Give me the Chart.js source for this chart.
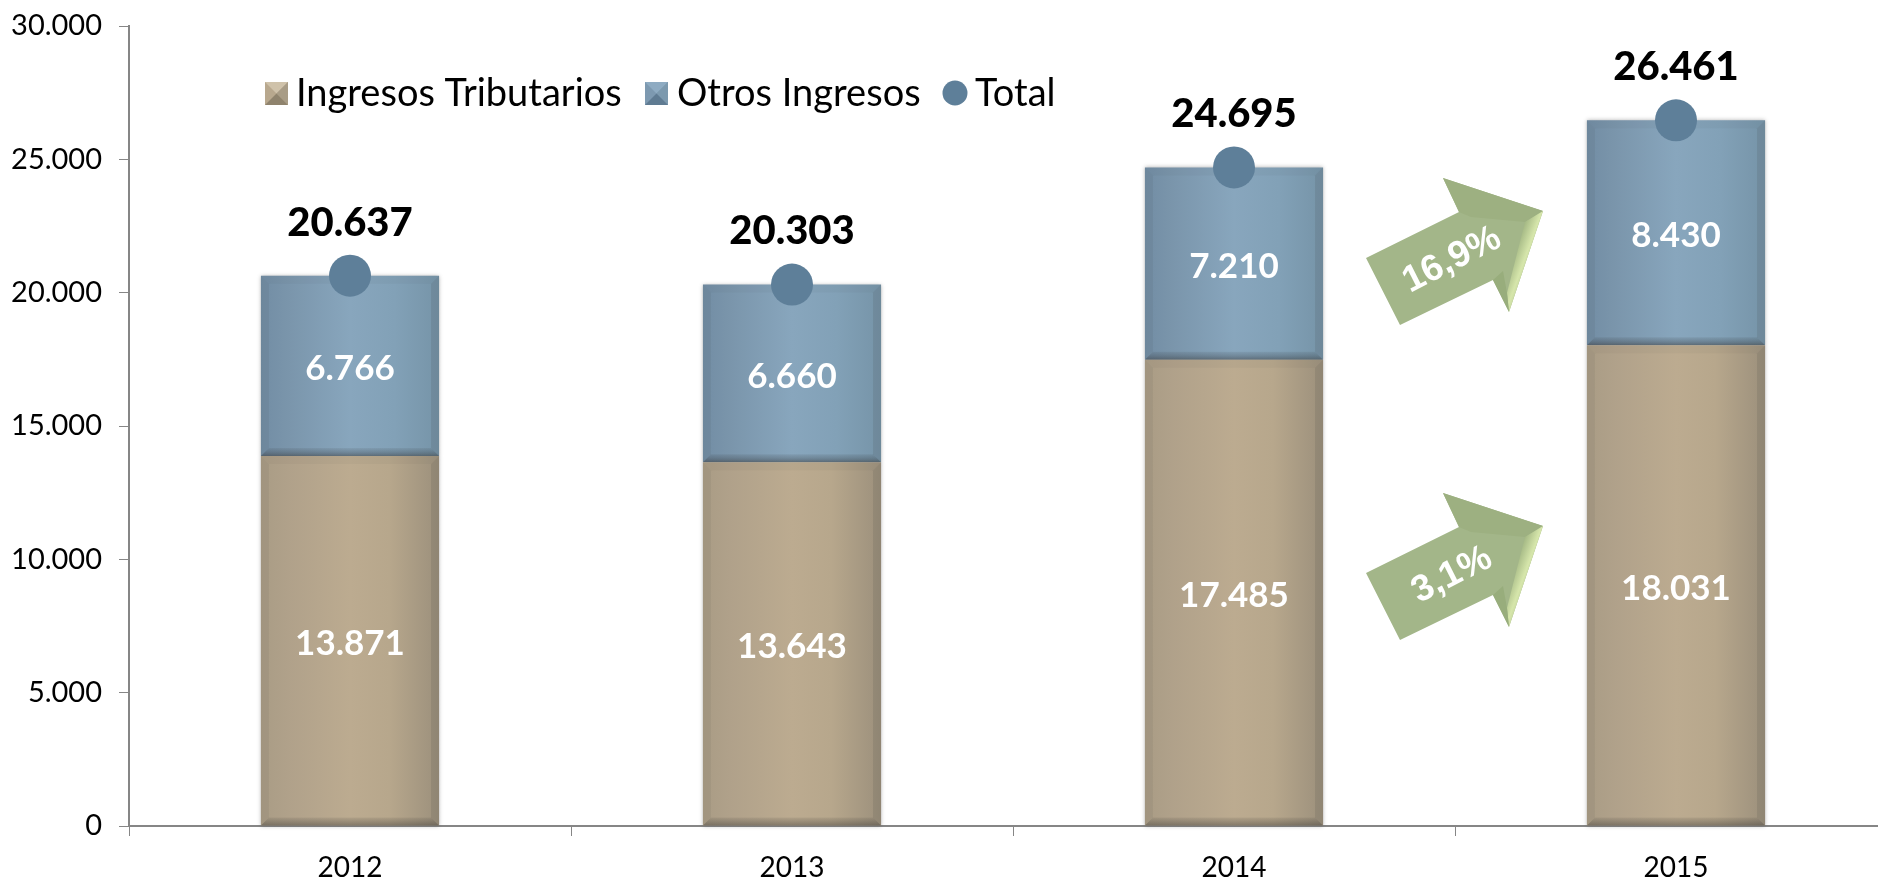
<!DOCTYPE html>
<html lang="es">
<head>
    <meta charset="UTF-8">
    <title>Ingresos 2012-2015</title>
    <script src="https://cdn.jsdelivr.net/npm/chart.js@4.4.1/dist/chart.umd.min.js"></script>
    <style>
        html, body { margin: 0; padding: 0; background: #fff; overflow: hidden; }
        #wrap { width: 1878px; height: 878px; overflow: hidden; }
    </style>
</head>
<body>
    <div id="wrap"><canvas id="chart" width="1918" height="878" style="width:1918px;height:878px;display:block"></canvas></div>
    <script>
    const years = ['2012', '2013', '2014', '2015'];
    const tributarios = [13871, 13643, 17485, 18031];
    const otros = [6766, 6660, 7210, 8430];
    const totals = [20637, 20303, 24695, 26461];
    const growth = ['16,9%', '3,1%'];
    const growthTipValues = [23060, 11250];

    const FONT = 'Lato, "Noto Sans", sans-serif';
    const BAR_SHARE = 0.403;
    const fmt = function(v) { return String(v).replace(/\B(?=(\d{3})+$)/g, '.'); };

    // horizontal shading of the bars, built from the x scale
    function barFill(stops) {
        return function(c) {
            const xs = c.chart.scales.x;
            if (!xs || !xs.width || c.dataIndex === undefined) return stops[2][1];
            const mid = xs.getPixelForValue(c.dataIndex);
            const half = xs.width / years.length * BAR_SHARE / 2;
            const g = c.chart.ctx.createLinearGradient(mid - half, 0, mid + half, 0);
            stops.forEach(function(s) { g.addColorStop(s[0], s[1]); });
            return g;
        };
    }
    const tanStops = [[0, '#a99c85'], [0.15, '#b0a18a'], [0.5, '#bcab90'], [0.72, '#b7a78c'], [1, '#9c907c']];
    const blueStops = [[0, '#728da4'], [0.15, '#7a95ab'], [0.5, '#88a6bd'], [0.75, '#82a1b7'], [1, '#7694a8']];

    function facet(ctx, pts, fill) {
        ctx.beginPath();
        pts.forEach(function(p, i) { i ? ctx.lineTo(p[0], p[1]) : ctx.moveTo(p[0], p[1]); });
        ctx.closePath();
        ctx.fillStyle = fill;
        ctx.fill();
    }

    // soft shadow + bevel on the bar elements
    const bevelPlugin = {
        id: 'bevel',
        beforeDatasetDraw: function(chart, args) {
            if (chart.data.datasets[args.index].type === 'bar') {
                chart.ctx.shadowColor = 'rgba(70,70,70,0.4)';
                chart.ctx.shadowBlur = 4;
            }
        },
        afterDatasetDraw: function(chart, args) {
            const ctx = chart.ctx;
            ctx.shadowColor = 'transparent';
            ctx.shadowBlur = 0;
            if (chart.data.datasets[args.index].type !== 'bar') return;
            const b = 8;
            args.meta.data.forEach(function(el) {
                const p = el.getProps(['x', 'y', 'base', 'width'], true);
                const l = p.x - p.width / 2, r = p.x + p.width / 2, t = p.y, bt = p.base;
                facet(ctx, [[l, t], [r, t], [r - b, t + b], [l + b, t + b]], 'rgba(60,60,60,0.04)');
                facet(ctx, [[l, t], [l + b, t + b], [l + b, bt - b], [l, bt]], 'rgba(60,60,60,0.07)');
                facet(ctx, [[r, t], [r - b, t + b], [r - b, bt - b], [r, bt]], 'rgba(60,60,60,0.12)');
                const g = ctx.createLinearGradient(0, bt - b, 0, bt);
                g.addColorStop(0, 'rgba(40,40,40,0.08)');
                g.addColorStop(1, 'rgba(40,40,40,0.38)');
                facet(ctx, [[l, bt], [l + b, bt - b], [r - b, bt - b], [r, bt]], g);
            });
        }
    };

    // value labels on the bars and above the total points
    const labelPlugin = {
        id: 'valueLabels',
        afterDatasetsDraw: function(chart) {
            const ctx = chart.ctx;
            ctx.save();
            ctx.textAlign = 'center';
            ctx.textBaseline = 'middle';
            chart.data.datasets.forEach(function(ds, i) {
                chart.getDatasetMeta(i).data.forEach(function(el, j) {
                    const p = el.getProps(['x', 'y', 'base'], true);
                    if (ds.type === 'bar') {
                        ctx.font = 'bold 35px ' + FONT;
                        ctx.fillStyle = '#fff';
                        ctx.fillText(fmt(ds.data[j]), p.x, (p.y + p.base) / 2 + 3);
                    } else {
                        ctx.font = '900 40px ' + FONT;
                        ctx.fillStyle = '#000';
                        ctx.fillText(fmt(ds.data[j]), p.x, p.y - 53);
                    }
                });
            });
            ctx.restore();
        }
    };

    // legend floats inside the plot, swatches are bevelled like the bars
    const legendPlugin = {
        id: 'floatLegend',
        afterDraw: function(chart) {
            const ctx = chart.ctx;
            const spots = [[265, 296], [645, 677], [955, 975]];
            const midY = 94;
            ctx.save();
            ctx.font = '38px ' + FONT;
            ctx.textBaseline = 'middle';
            chart.data.datasets.forEach(function(ds, i) {
                const s = spots[i];
                if (ds.type === 'bar') {
                    const w = 23, t = midY - 12, x = s[0];
                    const stops = i === 0 ? ['#b8a88e', '#cfc2aa', '#a89c86', '#8f836d'] : ['#7d99b0', '#8eabc2', '#7c99ae', '#5f7b92'];
                    ctx.fillStyle = stops[0];
                    ctx.fillRect(x, t, w, w);
                    facet(ctx, [[x, t], [x + w, t], [x + w / 2, t + w / 2]], stops[1]);
                    facet(ctx, [[x + w, t], [x + w, t + w], [x + w / 2, t + w / 2]], stops[2]);
                    facet(ctx, [[x, t + w], [x + w, t + w], [x + w / 2, t + w / 2]], stops[3]);
                } else {
                    ctx.beginPath();
                    ctx.arc(s[0], midY - 1, 12.5, 0, Math.PI * 2);
                    ctx.fillStyle = ds.pointBackgroundColor;
                    ctx.fill();
                }
                ctx.fillStyle = '#000';
                ctx.fillText(ds.label, s[1], midY);
            });
            ctx.restore();
        }
    };

    // growth arrows between 2014 and 2015, anchored on the scales by their tip
    const arrowPlugin = {
        id: 'growthArrows',
        afterDraw: function(chart) {
            const ctx = chart.ctx;
            const xs = chart.scales.x, ys = chart.scales.y;
            const tipX = xs.getPixelForValue(3) - 133;
            growth.forEach(function(txt, i) {
                const ty = ys.getPixelForValue(growthTipValues[i]);
                const P = function(dx, dy) { return [tipX + dx, ty + dy]; };
                const outline = [P(0, 0), P(-34, 101), P(-50, 69), P(-143, 114), P(-177, 47), P(-84, 1), P(-100, -33)];
                facet(ctx, outline, '#a3b689');
                facet(ctx, [P(0, 0), P(-100, -33), P(-84, 1), P(-72, 6), P(-18, 11)], '#9db081');
                const g = ctx.createLinearGradient(tipX - 40, ty + 60, tipX - 12, ty + 70);
                g.addColorStop(0, '#93a877');
                g.addColorStop(0.55, '#d6e6ab');
                g.addColorStop(1, '#a9bc8b');
                facet(ctx, [P(0, 0), P(-34, 101), P(-36, 82), P(-18, 11)], g);
                facet(ctx, [P(-34, 101), P(-50, 69), P(-40, 60), P(-36, 82)], '#98ad7c');
                ctx.save();
                ctx.translate(tipX - 91, ty + 49);
                ctx.rotate(-27 * Math.PI / 180);
                ctx.font = 'bold 37px "Liberation Sans", Arial, sans-serif';
                ctx.textAlign = 'center';
                ctx.textBaseline = 'middle';
                ctx.fillStyle = '#fff';
                ctx.fillText(txt, 0, 0);
                ctx.restore();
            });
        }
    };

    new Chart(document.getElementById('chart'), {
        data: {
            labels: years,
            datasets: [
                { type: 'bar', label: 'Ingresos Tributarios', data: tributarios, backgroundColor: barFill(tanStops), barPercentage: BAR_SHARE, categoryPercentage: 1, order: 2, clip: false },
                { type: 'bar', label: 'Otros Ingresos', data: otros, backgroundColor: barFill(blueStops), barPercentage: BAR_SHARE, categoryPercentage: 1, order: 2, clip: false },
                { type: 'line', label: 'Total', data: totals, showLine: false, pointRadius: 21, pointHoverRadius: 21, pointBackgroundColor: '#5e7f99', pointBorderWidth: 0, order: 1, clip: false }
            ]
        },
        options: {
            responsive: false,
            animation: false,
            layout: { padding: { top: 26, right: 0, left: 0, bottom: 0 } },
            plugins: { legend: { display: false }, tooltip: { enabled: false } },
            scales: {
                x: {
                    stacked: true,
                    grid: { drawOnChartArea: false, color: '#868686', tickLength: 10, offset: true },
                    border: { color: '#868686', width: 2 },
                    ticks: { color: '#000', font: { family: FONT, size: 28 }, padding: 15, maxRotation: 0 },
                    afterFit: function(s) { s.height = 52; s.paddingLeft = 0; s.paddingRight = 0; }
                },
                y: {
                    stacked: true,
                    min: 0,
                    max: 30000,
                    grid: { drawOnChartArea: false, color: '#868686', tickLength: 10 },
                    border: { color: '#868686', width: 2 },
                    ticks: { stepSize: 5000, color: '#000', font: { family: FONT, size: 29 }, padding: 17, callback: function(v) { return fmt(v); } },
                    afterFit: function(s) { s.width = 129; s.paddingTop = 0; s.paddingBottom = 0; }
                }
            }
        },
        plugins: [bevelPlugin, labelPlugin, legendPlugin, arrowPlugin]
    });
    </script>
</body>
</html>
